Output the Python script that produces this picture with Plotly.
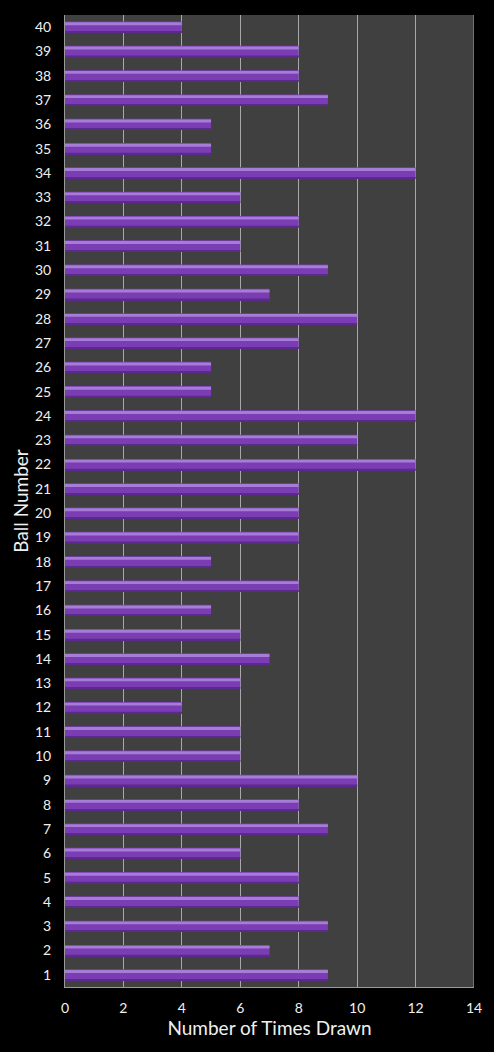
import plotly.graph_objects as go

balls = list(range(1, 41))
times_drawn = [9, 7, 9, 8, 8, 6, 9, 8, 10, 6,
               6, 4, 6, 7, 6, 5, 8, 5, 8, 8,
               8, 12, 10, 12, 5, 5, 8, 10, 7, 9,
               6, 8, 6, 12, 5, 5, 9, 8, 8, 4]
x_ticks = [0, 2, 4, 6, 8, 10, 12, 14]

fig = go.Figure()
# main bar body
fig.add_trace(go.Bar(y=balls, x=times_drawn, orientation="h",
                     width=0.46, offset=-0.23,
                     marker=dict(color="#7a3db3", line=dict(width=0)),
                     hoverinfo="x+y", showlegend=False))
# darker bottom edge
fig.add_trace(go.Bar(y=balls, x=times_drawn, orientation="h",
                     width=0.06, offset=-0.23,
                     marker=dict(color="#5c2a8c", line=dict(width=0)),
                     hoverinfo="skip", showlegend=False))
# light top highlight
fig.add_trace(go.Bar(y=balls, x=times_drawn, orientation="h",
                     width=0.12, offset=0.08,
                     marker=dict(color="#a57dd6", line=dict(width=0)),
                     hoverinfo="skip", showlegend=False))

font_family = "Lato, 'Open Sans', sans-serif"
fig.update_layout(
    width=494, height=1052,
    margin=dict(l=65, r=20, t=15, b=65),
    paper_bgcolor="#000000",
    plot_bgcolor="#404040",
    barmode="overlay",
    font=dict(family=font_family, color="#ffffff", size=14),
    xaxis=dict(range=[0, 14], tickvals=x_ticks, showgrid=True,
               gridcolor="#a8a8a8", gridwidth=1, zeroline=False,
               showline=True, linecolor="#9a9a9a", linewidth=1,
               ticks="", ticklen=0, ticklabelstandoff=8,
               tickfont=dict(size=14, color="#f0f0f0"),
               title=dict(text="Number of Times Drawn",
                          font=dict(size=19, color="#f0f0f0"), standoff=6)),
    yaxis=dict(range=[0.5, 40.5], tickvals=balls, showgrid=False,
               zeroline=False, showline=True, linecolor="#9a9a9a",
               linewidth=1, ticks="", ticklen=0, ticklabelstandoff=10,
               tickfont=dict(size=14, color="#f0f0f0"),
               title=dict(text="Ball Number",
                          font=dict(size=19, color="#f0f0f0"), standoff=1)),
)
fig.add_shape(type="line", xref="x", yref="paper", x0=14, x1=14, y0=0, y1=1,
              line=dict(color="#a8a8a8", width=1))

fig.write_html("out.html")
